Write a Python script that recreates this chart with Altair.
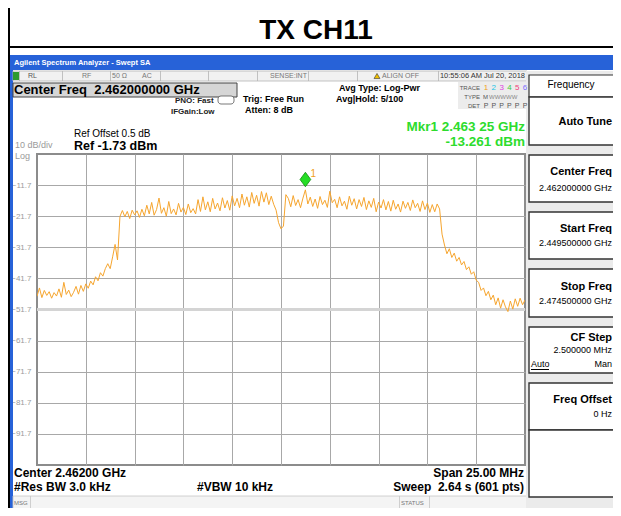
import altair as alt
import numpy as np
import pandas as pd

FONT = "Liberation Sans"
NB = "\u00a0"

# ---------------- data ----------------
chart_title = "TX CH11"
start_ghz = 2.4495
stop_ghz = 2.4745
ref_top = -1.73
ref_bottom = -101.73

trace_dbm = [
    -47.5, -44.8, -47.9, -45.6, -47.2, -46.0, -48.1, -46.3, -47.4, -45.1, -47.8, -43.0, -46.9, -45.5, -47.6,
    -46.2, -44.3, -46.8, -44.0, -45.9, -43.5, -44.9,
    -42.6, -43.8, -41.2, -42.5, -39.9, -41.0, -38.6,
    -37.0, -38.6, -34.8, -30.8, -35.8,
    -21.8, -19.9, -21.9, -20.2, -22.5, -19.8, -21.3, -20.0, -22.1, -19.5,
    -21.6, -18.2, -21.0, -17.3, -21.4, -19.6, -15.9, -20.8, -19.0, -21.7,
    -17.0, -20.9, -19.4, -21.3, -17.6, -20.4, -18.9, -21.2, -17.8, -20.6,
    -19.3, -21.0, -16.4, -20.2, -15.5, -19.7, -17.1, -20.3, -16.0, -19.4,
    -17.5, -20.0, -15.8, -19.1, -16.7, -19.8, -15.2, -18.4, -16.0, -19.0,
    -14.6, -18.2, -15.5, -18.8, -14.1, -17.6, -15.0, -18.5, -13.8, -17.2,
    -14.2, -18.0, -15.3, -17.9, -19.8,
    -23.8, -25.8, -24.9,
    -14.8, -16.0, -18.7, -15.1, -18.3, -16.4, -19.0, -15.9, -13.26, -17.8,
    -15.6, -18.6, -16.2, -19.2, -15.4, -18.0, -16.6, -18.9, -13.7, -17.4,
    -16.3, -19.0, -15.5, -18.4, -16.9, -19.5, -15.3, -18.2, -16.1, -19.4,
    -16.4, -18.6, -15.7, -19.6, -16.8, -18.9, -16.0, -20.3, -17.2, -19.1,
    -16.4, -19.7, -17.0, -20.1, -16.6, -19.5, -17.8, -20.4, -16.9, -19.2,
    -17.3, -19.9, -16.5, -19.0, -17.6, -20.2, -16.8, -19.6, -17.5, -20.5,
    -18.0, -20.3, -17.8, -19.4, -27.5,
    -31.0, -33.8, -32.2, -35.0, -33.6, -36.2, -35.0, -37.4, -36.3, -38.9,
    -38.0, -40.4, -39.6, -42.3, -43.0, -45.6, -44.8, -47.3, -45.9, -48.6,
    -47.1, -50.2, -48.0, -51.3, -48.6, -50.9, -52.4, -49.0, -51.6, -48.3,
    -50.7, -48.1, -50.2, -48.7,
]
freq_ghz = np.linspace(start_ghz, stop_ghz, len(trace_dbm))

marker_freq = [2.46325]
marker_dbm = [-13.261]

x_grid = [2.452, 2.4545, 2.457, 2.4595, 2.462, 2.4645, 2.467, 2.4695, 2.472]
y_grid = [-11.73, -21.73, -31.73, -41.73, -51.73, -61.73, -71.73, -81.73, -91.73]
display_line = [-51.73]

trace_nums = ["1", "2", "3", "4", "5", "6"]
trace_cols = ["#f0a020", "#22c4e6", "#e040e0", "#3ccc3c", "#f0407a", "#7a6cff"]

softkeys = [
    ("Auto Tune", None),
    ("Center Freq", "2.462000000 GHz"),
    ("Start Freq", "2.449500000 GHz"),
    ("Stop Freq", "2.474500000 GHz"),
    ("CF Step", "2.500000 MHz"),
    ("Freq Offset", "0 Hz"),
]

# ---------------- layout helpers ----------------
OX, OY = 37, 154          # page position of the plot area's top-left corner
PW, PH = 488, 311         # plot area size
SVG_W, SVG_H = 605, 500   # whole drawing (page has an 8px margin)
RX = 612                  # right edge used for right-aligned softkey texts
ONE = pd.DataFrame({"k": [0]})


def T(txt, px, py, size=9, weight="normal", color="black", align="left", font=FONT):
    return alt.Chart(pd.DataFrame({"t": [txt]})).mark_text(
        align=align, baseline="middle", fontSize=size, fontWeight=weight,
        color=color, font=font
    ).encode(x=alt.value(px - OX), y=alt.value(py - OY), text="t:N")


def R(x1, y1, x2, y2, fill, stroke=None, sw=1.0, radius=0):
    kw = dict(fill=fill)
    if stroke:
        kw.update(stroke=stroke, strokeWidth=sw)
    else:
        kw.update(strokeWidth=0)
    if radius:
        kw["cornerRadius"] = radius
    return alt.Chart(ONE).mark_rect(**kw).encode(
        x=alt.value(x1 - OX), x2=alt.value(x2 - OX),
        y=alt.value(y1 - OY), y2=alt.value(y2 - OY))


layers = []

# ---- frame / chrome backgrounds ----
BLUE = "#2762d8"
layers += [
    R(8, 8, 10, 516, "black"),
    R(8, 46, 621, 48, "black"),
    R(10, 55, 621, 70, BLUE),
    R(10, 55, 13, 516, BLUE),
    R(13, 71, 527, 81, "#f1f1f1", "#b5b5b5", 0.8),
]
for sx in [19, 62, 110, 160, 208, 257, 308, 357, 438]:
    layers.append(R(sx, 71, sx + 0.8, 81, "#b5b5b5"))
layers += [
    R(13, 72, 19, 80, "#2e9a2e"),
    R(13, 83, 237, 97, "#d6d6d6", "#444444", 1),
    R(218, 96, 234, 104, "white", "#555555", 0.8, radius=3),
    R(458, 82, 527, 109, "#ececec"),
    R(13, 496, 527, 516, "#f4f4f4", "#c6c6c6", 0.8),
    R(30, 496, 30.8, 516, "#c6c6c6"),
    R(399, 496, 399.8, 516, "#c6c6c6"),
    R(429, 496, 429.8, 516, "#c6c6c6"),
    R(526, 71, 621, 516, "#ebebeb"),
    R(529, 75, 622, 97, "white", "#333333", 1.2),
]
btn_rows = [(97, 145), (155, 202), (212, 259), (269, 317), (327, 373), (383, 430), (430, 497)]
for (b1, b2) in btn_rows:
    layers.append(R(529, b1, 622, b2, "white", "#333333", 1.4))

# ---- plot ----
xs = alt.Scale(domain=[start_ghz, stop_ghz], nice=False, zero=False)
ys = alt.Scale(domain=[ref_bottom, ref_top], nice=False, zero=False)
x_axis = alt.Axis(values=x_grid, grid=True, labels=False, ticks=False, domain=False,
                  title=None, gridColor="#a8a8a8", gridWidth=1)
y_axis = alt.Axis(values=y_grid, grid=True, ticks=False, domain=False, title=None,
                  labelExpr="format(datum.value, '.1f')", labelFontSize=8,
                  labelColor="#9c9c9c", labelPadding=6, labelFont=FONT,
                  gridColor="#a8a8a8", gridWidth=1)
XE = alt.X("f:Q", scale=xs, axis=x_axis)
YE = alt.Y("d:Q", scale=ys, axis=y_axis)

trace_df = pd.DataFrame({"f": freq_ghz, "d": trace_dbm})
mk_df = pd.DataFrame({"f": marker_freq, "d": marker_dbm})
dl_df = pd.DataFrame({"d": display_line})

layers.append(alt.Chart(dl_df).mark_rule(color="#d4d4d4", strokeWidth=3).encode(y=YE))
layers.append(alt.Chart(trace_df).mark_line(color="#f6a52e", strokeWidth=1, clip=True).encode(x=XE, y=YE))
diamond = "M0,-2.43L0.74,-1.43L0,-0.43L-0.74,-1.43Z"
layers.append(alt.Chart(mk_df).mark_point(shape=diamond, size=210, filled=True, fill="#25dd25",
                                          stroke="#138a13", strokeWidth=0.8, opacity=1).encode(x=XE, y=YE))
layers.append(alt.Chart(mk_df).mark_text(text="1", color="#f0a020", dx=8, dy=-16, fontSize=10,
                                         font=FONT).encode(x=XE, y=YE))

# ---- texts ----
GREEN = "#2ddc2d"
GRAY = "#9a9a9a"
layers += [
    T(chart_title, 316, 31, 28, "bold", "black", "center"),
    T("Agilent Spectrum Analyzer - Swept SA", 14, 63, 7.5, "bold", "white"),
    T("RL", 28, 76, 7, "normal", "#555555"),
    T("RF", 82, 76, 7, "normal", "#777777"),
    T("50 Ω", 112, 76, 7, "normal", "#777777"),
    T("AC", 142, 76, 7, "normal", "#777777"),
    T("SENSE:INT", 270, 76, 7, "normal", "#777777"),
    T("ALIGN OFF", 382, 76, 7, "normal", "#777777"),
    T("10:55:06 AM Jul 20, 2018", 525, 76, 7.5, "normal", "#333333", "right"),
    T("Center Freq" + NB + NB + "2.462000000 GHz", 14, 90, 13, "bold"),
    T("PNO: Fast", 175, 101, 8, "bold", "#222222"),
    T("IFGain:Low", 171, 112, 8, "bold", "#222222"),
    T("Trig: Free Run", 243, 99, 9, "bold"),
    T("Atten: 8 dB", 245, 110, 9, "bold"),
    T("Avg Type: Log-Pwr", 339, 88, 9, "bold"),
    T("Avg|Hold: 5/100", 336, 99, 9, "bold"),
    T("TRACE", 480, 88, 6, "normal", "#555555", "right"),
    T("TYPE", 480, 97, 6, "normal", "#555555", "right"),
    T("DET", 480, 106, 6, "normal", "#555555", "right"),
    T("M", 483, 97, 6, "normal", "#555555"),
    T("WWWWW", 489, 97, 6, "normal", "#888888"),
    T("Mkr1 2.463 25 GHz", 525, 126.5, 13.5, "bold", GREEN, "right"),
    T("-13.261 dBm", 525, 141.5, 13.5, "bold", GREEN, "right"),
    T("Ref Offset 0.5 dB", 74, 134, 10),
    T("Ref -1.73 dBm", 74, 146, 12.5, "bold"),
    T("10 dB/div", 15, 145, 9, "normal", GRAY),
    T("Log", 15, 155.5, 9, "normal", GRAY),
    T("Center 2.46200 GHz", 14, 473, 12, "bold"),
    T("#Res BW 3.0 kHz", 14, 487, 12, "bold"),
    T("#VBW 10 kHz", 197, 487, 12, "bold"),
    T("Span 25.00 MHz", 524, 473, 12, "bold", "black", "right"),
    T("Sweep" + NB + NB + "2.64 s (601 pts)", 524, 487, 12, "bold", "black", "right"),
    T("MSG", 14, 503, 6, "normal", "#777777"),
    T("STATUS", 401, 503, 6, "normal", "#777777"),
    T("Frequency", 571, 85, 10, "normal", "black", "center"),
]
for k, (n, c) in enumerate(zip(trace_nums, trace_cols)):
    layers.append(T(n, 486 + 7.8 * k, 88, 8, "normal", c, "center"))
    layers.append(T("P", 486 + 7.8 * k, 106, 7, "normal", "#555555", "center"))

layers.append(alt.Chart(ONE).mark_point(shape="triangle-up", filled=True, fill="#f2c200",
                                        stroke="#333333", strokeWidth=0.6, size=35, opacity=1)
              .encode(x=alt.value(377 - OX), y=alt.value(76 - OY)))

label_y = [122, 172, 229, 287, 338, 400]
value_y = [None, 188, 243, 301, 350, 414]
for (name, val), ly, vy in zip(softkeys, label_y, value_y):
    layers.append(T(name, RX, ly, 11, "bold", "black", "right"))
    if val:
        layers.append(T(val, RX, vy, 9, "normal", "black", "right"))
layers += [
    T("Auto", 531, 364, 9),
    T("Man", RX, 364, 9, "normal", "black", "right"),
    R(531, 369, 549, 370, "black"),
]

pad_left = OX - 8
pad_top = OY - 8
chart = alt.layer(*layers).properties(
    width=PW, height=PH,
    autosize=alt.AutoSizeParams(type="none"),
    padding={"left": pad_left, "top": pad_top,
             "right": SVG_W - pad_left - PW, "bottom": SVG_H - pad_top - PH},
    background="white",
).configure_view(stroke="#8c8c8c", strokeWidth=2)

chart.save("out.html", embed_options={"renderer": "svg", "actions": False})
